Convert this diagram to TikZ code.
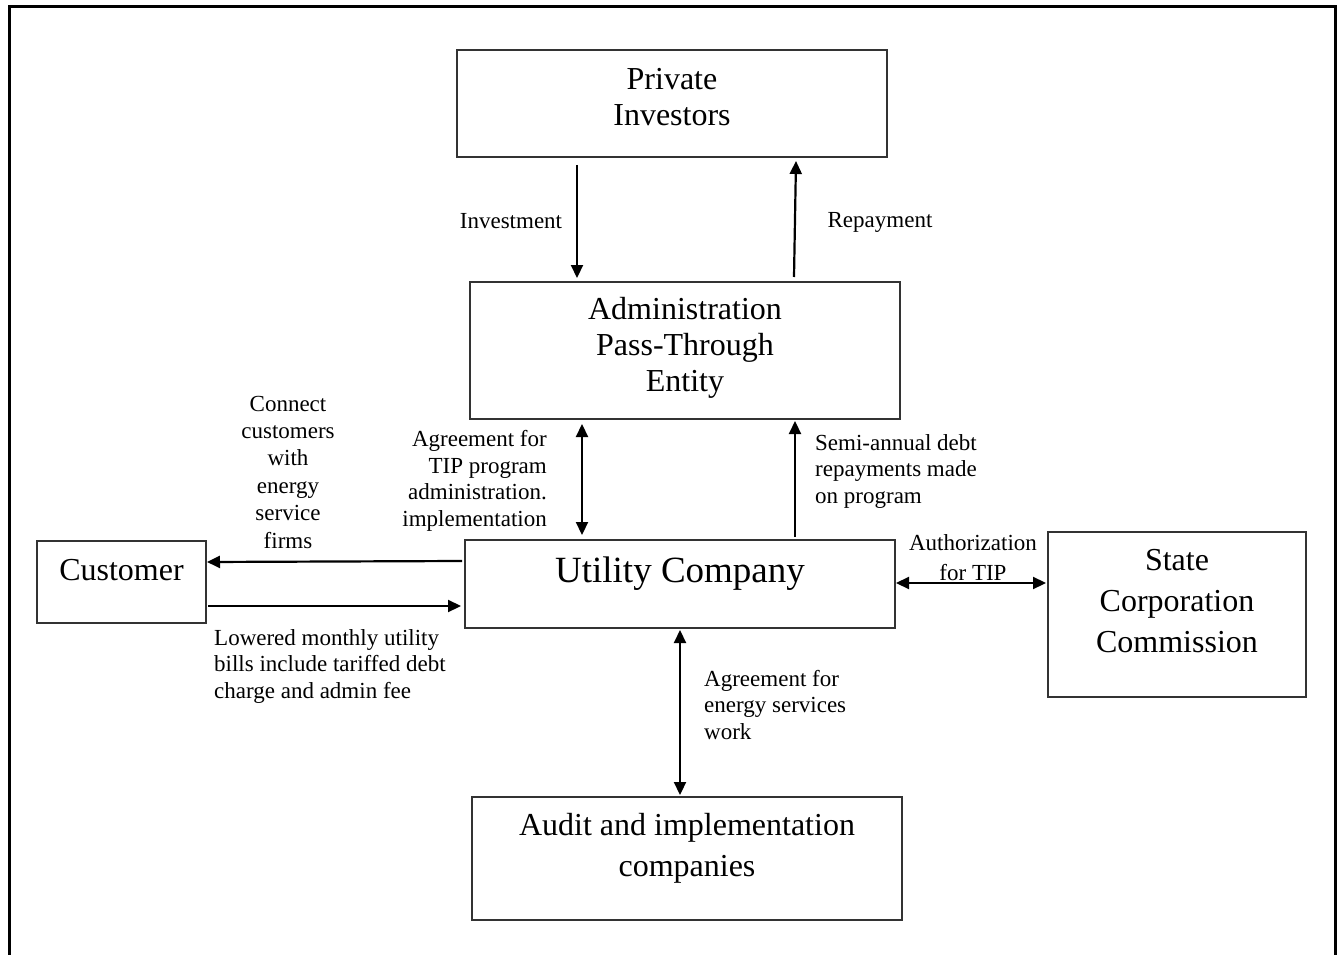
\documentclass[tikz,border=0pt]{standalone}
\usepackage{fontspec}
\setmainfont{Liberation Serif}
\usetikzlibrary{arrows.meta}
\tikzset{
  box/.style={draw=black!80, line width=1.5pt, rectangle, inner sep=0pt},
  big/.style={inner sep=0pt, align=center, font=\fontsize{32}{36}\selectfont},
  bigw/.style={inner sep=0pt, align=center, font=\fontsize{32}{41}\selectfont},
  lbl/.style={inner sep=0pt, font=\fontsize{23}{26.5}\selectfont},
  conn/.style={line width=2.2pt, -{Triangle[length=13pt,width=12pt]}},
  conn2/.style={line width=2.2pt, {Triangle[length=13pt,width=12pt]}-{Triangle[length=13pt,width=12pt]}},
}
\begin{document}
\begin{tikzpicture}[x=1pt,y=-1pt]
\useasboundingbox (0,0) rectangle (1342,955);
\draw[line width=3pt] (9,960) -- (9,7) -- (1335,7) -- (1335,960);

% boxes
\node[box, minimum width=430pt, minimum height=107pt] (pi) at (672,103.5) {};
\node[box, minimum width=430pt, minimum height=137pt] (ad) at (685,350.5) {};
\node[box, minimum width=430pt, minimum height=88pt] (ut) at (680,584) {};
\node[box, minimum width=169pt, minimum height=82pt] (cu) at (121.5,582) {};
\node[box, minimum width=258pt, minimum height=165pt] (sc) at (1177,614.5) {};
\node[box, minimum width=430pt, minimum height=123pt] (au) at (687,858.5) {};

% box texts
\node[big] (piT) at (672,97) {Private\\Investors};
\node[big] (adT) at (685,348) {Administration\\Pass-Through\\Entity};
\node[inner sep=0pt, font=\fontsize{37}{40}\selectfont] (utT) at (680,574) {Utility Company};
\node[big] (cuT) at (121.5,570) {Customer};
\node[bigw] (scT) at (1177,601.5) {State\\Corporation\\Commission};
\node[bigw] (auT) at (687,848) {Audit and implementation\\companies};

% connector end points
\coordinate (i1) at (577,165); \coordinate (i2) at (577,278);
\coordinate (r1) at (794,277); \coordinate (r2) at (796,161);
\coordinate (a1) at (582,424); \coordinate (a2) at (582,535);
\coordinate (s1) at (795,537); \coordinate (s2) at (795,421);
\coordinate (c1) at (462,561); \coordinate (c2) at (207,562);
\coordinate (l1) at (208,606); \coordinate (l2) at (461,606);
\coordinate (t1) at (896,583); \coordinate (t2) at (1046,583);
\coordinate (e1) at (680,630); \coordinate (e2) at (680,795);

\draw[conn] (i1) -- (i2);
\draw[conn] (r1) -- (r2);
\draw[conn2] (a1) -- (a2);
\draw[conn] (s1) -- (s2);
\draw[conn] (c1) -- (c2);
\draw[conn] (l1) -- (l2);
\draw[conn2] (t1) -- (t2);
\draw[conn2] (e1) -- (e2);

% labels
\node[lbl] (invL) at (511,221) {Investment};
\node[lbl] (repL) at (880,222) {Repayment};
\node[lbl, align=center, font=\fontsize{23}{27.4}\selectfont] (conL) at (288,472) {Connect\\customers\\with\\energy\\service\\firms};
\node[lbl, align=right, anchor=east] (agrL) at (547,481) {Agreement for\\TIP program\\administration.\\implementation};
\node[lbl, align=left, anchor=west] (semL) at (815,471) {Semi-annual debt\\repayments made\\on program};
\node[lbl, align=center, font=\fontsize{23}{30}\selectfont] (autL) at (973,558) {Authorization\\for TIP};
\node[lbl, align=left, anchor=west] (lowL) at (214,666) {Lowered monthly utility\\bills include tariffed debt\\charge and admin fee};
\node[lbl, align=left, anchor=west] (enL) at (704,705) {Agreement for\\energy services\\work};
\end{tikzpicture}
\end{document}
